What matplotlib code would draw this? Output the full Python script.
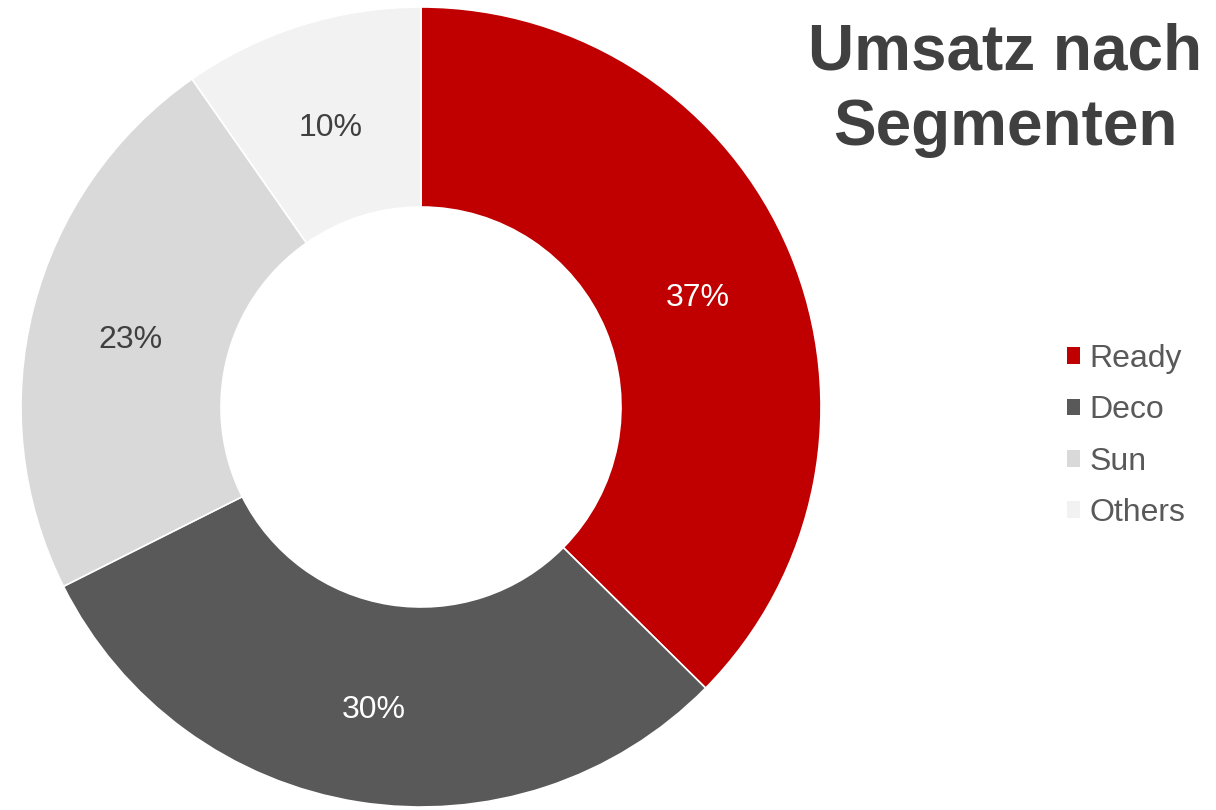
import matplotlib

matplotlib.use('Agg')
import matplotlib.pyplot as plt
import matplotlib.transforms as mtransforms
from matplotlib.patches import Patch

plt.rcParams['font.family'] = ['Liberation Sans', 'DejaVu Sans']

# Daten (Anteile in %)
segmente = ['Ready', 'Deco', 'Sun', 'Others']
anteile = [37.4, 30.2, 22.7, 9.7]
farben = ['#C00000', '#595959', '#D9D9D9', '#F2F2F2']
text_farben = ['white', 'white', '#404040', '#404040']

W, H = 1216, 810
fig = plt.figure(figsize=(W / 100, H / 100), dpi=100)

# Donut-Achse: Mittelpunkt (421, 407), Radius 400 px
ax = fig.add_axes([21 / W, (H - 807) / H, 800 / W, 800 / H])
wedges, texts, autotexts = ax.pie(
    anteile, colors=farben, startangle=90, counterclock=False,
    autopct='%.0f%%', pctdistance=0.75, radius=1.0,
    wedgeprops=dict(width=0.5, edgecolor='white', linewidth=1.2),
    textprops=dict(fontsize=23))
# Prozentwerte etwas nach unten schieben
versatz = mtransforms.offset_copy(ax.transData, fig=fig, x=0, y=-5, units='points')
for t, c in zip(autotexts, text_farben):
    t.set_color(c)
    t.set_transform(versatz)
ax.set_xlim(-1, 1)
ax.set_ylim(-1, 1)
ax.set_aspect('equal')

# Titel
fig.text(1005 / W, 1 - 90 / H, 'Umsatz nach\nSegmenten', ha='center', va='center',
         fontsize=46, fontweight='bold', color='#404040', linespacing=1.33)

# Legende
handles = [Patch(facecolor=c, edgecolor='none') for c in farben]
leg = fig.legend(handles, segmente, loc='center left', bbox_to_anchor=(1038 / W, 1 - 436 / H),
                 frameon=False, fontsize=23, handlelength=0.43, handleheight=0.43,
                 handletextpad=0.28, labelspacing=0.67)
for t in leg.get_texts():
    t.set_color('#595959')

plt.savefig('out.png', dpi=100)
plt.close(fig)
